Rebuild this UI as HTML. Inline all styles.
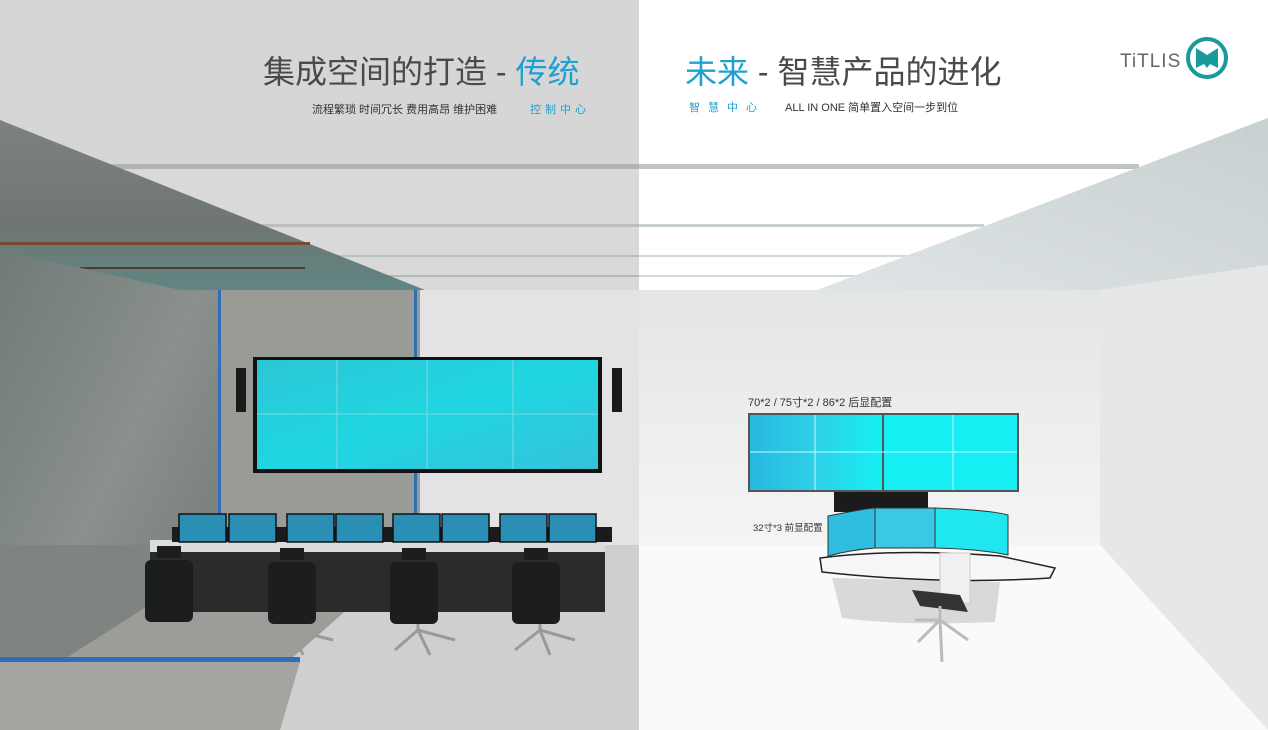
<!DOCTYPE html>
<html><head><meta charset="utf-8"><style>
html,body{margin:0;padding:0;width:1268px;height:730px;overflow:hidden;background:#fff}
svg{display:block}
text{font-family:"Liberation Sans","Noto Sans CJK SC",sans-serif}
</style></head><body>
<svg width="1268" height="730" viewBox="0 0 1268 730" xmlns="http://www.w3.org/2000/svg">
<defs>
<linearGradient id="scr" x1="0" y1="0" x2="1" y2="1"><stop offset="0" stop-color="#2cc6d6"/><stop offset="0.5" stop-color="#1fd6e0"/><stop offset="1" stop-color="#35c2dc"/></linearGradient>
<linearGradient id="scr2" x1="0" y1="0" x2="1" y2="0"><stop offset="0" stop-color="#27b8e0"/><stop offset="0.5" stop-color="#2fd0e8"/><stop offset="1" stop-color="#14f0f4"/></linearGradient>
<linearGradient id="conc" x1="0" y1="0" x2="1" y2="1"><stop offset="0" stop-color="#6f7a78"/><stop offset="0.5" stop-color="#8a908c"/><stop offset="1" stop-color="#6f7572"/></linearGradient>
<linearGradient id="slab" x1="0" y1="0" x2="0" y2="1"><stop offset="0" stop-color="#7d827e"/><stop offset="0.6" stop-color="#6f7673"/><stop offset="1" stop-color="#5f8583"/></linearGradient>
<linearGradient id="rc" x1="1" y1="0" x2="0" y2="1"><stop offset="0" stop-color="#c8cfd0"/><stop offset="1" stop-color="#dfe5e6"/></linearGradient>
<linearGradient id="bw" x1="0" y1="0" x2="0" y2="1"><stop offset="0" stop-color="#e4e6e6"/><stop offset="1" stop-color="#f4f4f4"/></linearGradient>
</defs>
<!-- left background -->
<rect x="0" y="0" width="639" height="730" fill="#d6d6d6"/>
<!-- left ceiling stripes -->
<rect x="100" y="165" width="539" height="125" fill="#d9d9d9"/>
<rect x="110" y="164" width="529" height="5" fill="#b2b4b4"/>
<rect x="215" y="224" width="424" height="3" fill="#bcbebe"/>
<rect x="280" y="255" width="359" height="2" fill="#b8c0c0"/>
<rect x="320" y="275" width="319" height="2" fill="#b0bcbc"/>
<!-- slab -->
<polygon points="0,120 425,290 0,290" fill="url(#slab)"/>
<rect x="0" y="242" width="310" height="3" fill="#7a4a30"/>
<rect x="80" y="267" width="225" height="2" fill="#553a2e"/>
<!-- left wall concrete -->
<polygon points="0,250 180,290 220,290 220,560 0,700" fill="url(#conc)"/>
<!-- back wall concrete part -->
<rect x="220" y="290" width="200" height="255" fill="#989b96"/>
<!-- back wall plain -->
<rect x="420" y="290" width="219" height="255" fill="#e3e3e3"/>
<!-- pipes -->
<rect x="218" y="290" width="3" height="270" fill="#2f6fb8"/>
<rect x="414" y="290" width="3" height="225" fill="#2f6fb8"/>
<rect x="0" y="598" width="140" height="4" fill="#2f6fb8"/>
<!-- floor -->
<polygon points="0,545 639,545 639,730 0,730" fill="#cfcfcf"/>
<polygon points="0,560 220,545 420,545 290,660 0,665" fill="#9c9d99"/>
<polygon points="0,700 220,560 220,545 0,545" fill="#7f8481"/>
<rect x="0" y="657" width="300" height="5" fill="#2f6fb8"/>
<polygon points="0,662 300,662 280,730 0,730" fill="#a4a5a1"/>
<!-- speakers -->
<rect x="236" y="368" width="10" height="44" fill="#1a1a1a"/>
<rect x="612" y="368" width="10" height="44" fill="#1a1a1a"/>
<!-- video wall left -->
<rect x="253" y="357" width="349" height="116" fill="#111"/>
<rect x="257" y="360" width="341" height="109" fill="url(#scr)"/>
<g stroke="#7fd8e0" stroke-width="1">
<line x1="337" y1="360" x2="337" y2="469"/><line x1="427" y1="360" x2="427" y2="469"/><line x1="513" y1="360" x2="513" y2="469"/><line x1="257" y1="414" x2="598" y2="414"/>
</g>
<!-- desk left -->
<rect x="150" y="540" width="455" height="12" fill="#dcdcdc"/>
<rect x="150" y="552" width="455" height="60" fill="#2a2b2d"/>
<rect x="172" y="527" width="440" height="15" fill="#1a1b1d"/>
<g fill="#2b8fb5" stroke="#111" stroke-width="1.5">
<rect x="179" y="514" width="47" height="28"/><rect x="229" y="514" width="47" height="28"/>
<rect x="287" y="514" width="47" height="28"/><rect x="336" y="514" width="47" height="28"/>
<rect x="393" y="514" width="47" height="28"/><rect x="442" y="514" width="47" height="28"/>
<rect x="500" y="514" width="47" height="28"/><rect x="549" y="514" width="47" height="28"/>
</g>
<!-- chairs -->
<g fill="#1c1d1f">
<rect x="145" y="560" width="48" height="62" rx="6"/><rect x="268" y="562" width="48" height="62" rx="6"/>
<rect x="390" y="562" width="48" height="62" rx="6"/><rect x="512" y="562" width="48" height="62" rx="6"/>
<rect x="157" y="546" width="24" height="12"/><rect x="280" y="548" width="24" height="12"/>
<rect x="402" y="548" width="24" height="12"/><rect x="524" y="548" width="24" height="12"/>
</g>
<g stroke="#9a9a9a" stroke-width="3" fill="none">
<path d="M145,650 L170,630 L210,640 M170,630 L180,655 M170,622 L170,630"/><path d="M268,650 L293,630 L333,640 M293,630 L303,655 M293,624 L293,630"/>
<path d="M395,650 L418,630 L455,640 M418,630 L430,655 M418,624 L418,630"/><path d="M515,650 L540,630 L575,640 M540,630 L550,655 M540,624 L540,630"/>
</g>
<!-- right side -->
<rect x="639" y="0" width="629" height="730" fill="#ffffff"/>
<rect x="639" y="164" width="500" height="5" fill="#c0c4c4"/>
<rect x="639" y="224" width="345" height="3" fill="#c8d0d0"/>
<rect x="639" y="255" width="280" height="2" fill="#d0d8d8"/>
<rect x="639" y="275" width="240" height="2" fill="#d0d8d8"/>
<polygon points="1268,118 1268,265 1100,290 817,290" fill="url(#rc)"/>
<rect x="639" y="290" width="461" height="255" fill="url(#bw)"/>
<polygon points="1100,290 1268,265 1268,730 1100,545" fill="#e6e7e7"/>
<polygon points="639,545 1100,545 1268,730 639,730" fill="#fafafa"/>
<!-- right video wall -->
<rect x="834" y="492" width="94" height="20" fill="#1b1b1b"/>
<rect x="748" y="413" width="271" height="79" fill="#555"/>
<rect x="750" y="415" width="132" height="75" fill="url(#scr2)"/>
<rect x="884" y="415" width="133" height="75" fill="#15eef2"/>
<g stroke="#bff" stroke-width="1"><line x1="750" y1="452" x2="1017" y2="452"/><line x1="815" y1="415" x2="815" y2="490"/><line x1="953" y1="415" x2="953" y2="490"/></g>
<!-- curved screens -->
<path d="M828,516 Q868,508 875,508 L875,548 Q850,550 828,556 Z" fill="#2fbde0" stroke="#333"/>
<path d="M875,508 L935,508 L935,548 L875,548 Z" fill="#3bc8e4" stroke="#333"/>
<path d="M935,508 Q990,510 1008,515 L1008,555 Q980,549 935,548 Z" fill="#20e6f0" stroke="#333"/>
<!-- desk -->
<path d="M832,578 L1000,582 L995,622 Q900,626 842,618 Z" fill="#d8d9db"/>
<path d="M820,558 Q900,548 1000,556 L1055,568 L1050,578 Q940,585 822,572 Z" fill="#f6f6f6" stroke="#222" stroke-width="1.5"/>
<rect x="940" y="553" width="30" height="50" fill="#f0f0f0" stroke="#ccc"/>
<path d="M912,590 L960,595 L968,612 L920,606 Z" fill="#333"/>
<g stroke="#bbb" stroke-width="3" fill="none"><path d="M918,642 L940,620 L968,640 M940,620 L942,662 M940,620 L915,620 M940,606 L940,620"/></g>
<!-- texts -->
<text x="263" y="83" font-size="32" fill="#4a4a4a">集成空间的打造 - <tspan fill="#1ea0d2">传统</tspan></text>
<text x="685" y="83" font-size="32" fill="#1ea0d2">未来<tspan fill="#4a4a4a"> - 智慧产品的进化</tspan></text>
<text x="312" y="113" font-size="11" fill="#333">流程繁琐  时间冗长  费用高昂  维护困难</text>
<text x="530" y="113" font-size="11" fill="#1ea0d2" letter-spacing="4">控制中心</text>
<text x="689" y="111" font-size="11" fill="#1ea0d2" letter-spacing="8">智慧中心</text>
<text x="785" y="111" font-size="11" fill="#333">ALL IN ONE  简单置入空间一步到位</text>
<text x="748" y="406" font-size="11" fill="#333">70*2 / 75寸*2 / 86*2 后显配置</text>
<text x="753" y="531" font-size="9.5" fill="#333">32寸*3 前显配置</text>
<!-- logo -->
<text x="1120" y="67" font-size="19" fill="#666" letter-spacing="1">TiTLIS</text>
<circle cx="1207" cy="58" r="19" fill="none" stroke="#1a9a9a" stroke-width="4"/>
<path d="M1196,48 L1207,55 L1218,48 L1218,68 L1210,64 L1207,68 L1204,64 L1196,68 Z" fill="#1a9a9a"/>
</svg>
</body></html>
